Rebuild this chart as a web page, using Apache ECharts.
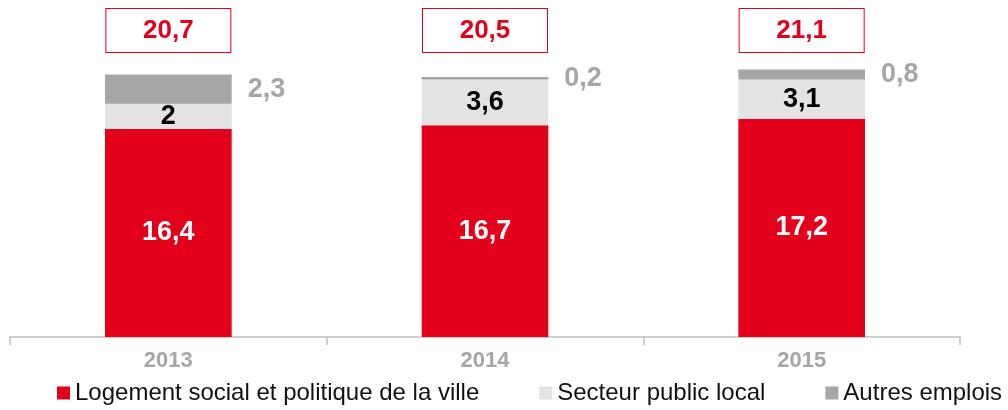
<!DOCTYPE html>
<html>
<head>
    <meta charset="UTF-8">
    <title>Emplois</title>
    <script src="https://cdn.jsdelivr.net/npm/echarts@6/dist/echarts.min.js"></script>
    <style>
        body { margin: 0; background: #fff; }
        #chart { width: 1008px; height: 410px; }
    </style>
</head>
<body>
<div id="chart"></div>
<script>
    var years = ['2013', '2014', '2015'];
    var logement = [16.4, 16.7, 17.2];
    var secteurPublic = [2, 3.6, 3.1];
    var autres = [2.3, 0.2, 0.8];

    // totaux affichés dans les cadres du haut
    var totals = years.map(function (y, i) {
        return (logement[i] + secteurPublic[i] + autres[i]).toFixed(1).replace('.', ',');
    });

    function fr(p) {
        return String(p.value).replace('.', ',');
    }

    var chart = echarts.init(document.getElementById('chart'), null, {renderer: 'canvas'});
    chart.setOption({
        animation: false,
        textStyle: {fontFamily: 'Liberation Sans, Arial, sans-serif'},
        grid: {left: 10, right: 48, top: 58, bottom: 73},
        legend: {
            top: 381,
            left: 57,
            width: 951,
            padding: 0,
            itemWidth: 13,
            itemHeight: 13,
            itemGap: 60,
            icon: 'rect',
            textStyle: {fontSize: 24, color: '#111'},
            data: ['Logement social et politique de la ville', 'Secteur public local', 'Autres emplois']
        },
        xAxis: [{
            type: 'category',
            data: years,
            axisLine: {lineStyle: {color: '#bfbfbf', width: 1.5}},
            axisTick: {show: true, length: 8, lineStyle: {color: '#bfbfbf', width: 1.5}},
            axisLabel: {color: '#a6a6a6', fontSize: 22, fontWeight: 'bold', margin: 13}
        }, {
            type: 'category',
            position: 'top',
            data: totals,
            axisLine: {show: false},
            axisTick: {show: false},
            axisLabel: {
                color: '#e2001a',
                fontSize: 26,
                fontWeight: 'bold',
                margin: 6,
                width: 124,
                height: 43,
                lineHeight: 43,
                align: 'center',
                verticalAlign: 'bottom',
                borderColor: '#e2001a',
                borderWidth: 1,
                backgroundColor: '#fff'
            }
        }],
        yAxis: {
            type: 'value',
            min: 0,
            max: 22,
            show: false,
            splitLine: {show: false}
        },
        series: [{
            name: 'Logement social et politique de la ville',
            type: 'bar',
            stack: 'emplois',
            barWidth: '40%',
            data: logement,
            itemStyle: {color: '#e2001a'},
            label: {show: true, position: 'inside', color: '#fff', fontSize: 27, fontWeight: 'bold', formatter: fr}
        }, {
            name: 'Secteur public local',
            type: 'bar',
            stack: 'emplois',
            data: secteurPublic,
            itemStyle: {color: '#e3e3e3'},
            label: {show: true, position: 'inside', color: '#000', fontSize: 27, fontWeight: 'bold', formatter: fr}
        }, {
            name: 'Autres emplois',
            type: 'bar',
            stack: 'emplois',
            data: autres,
            itemStyle: {color: '#a6a6a6'},
            label: {show: true, position: 'right', distance: 16, color: '#a6a6a6', fontSize: 27, fontWeight: 'bold', formatter: fr}
        }]
    });
</script>
</body>
</html>
